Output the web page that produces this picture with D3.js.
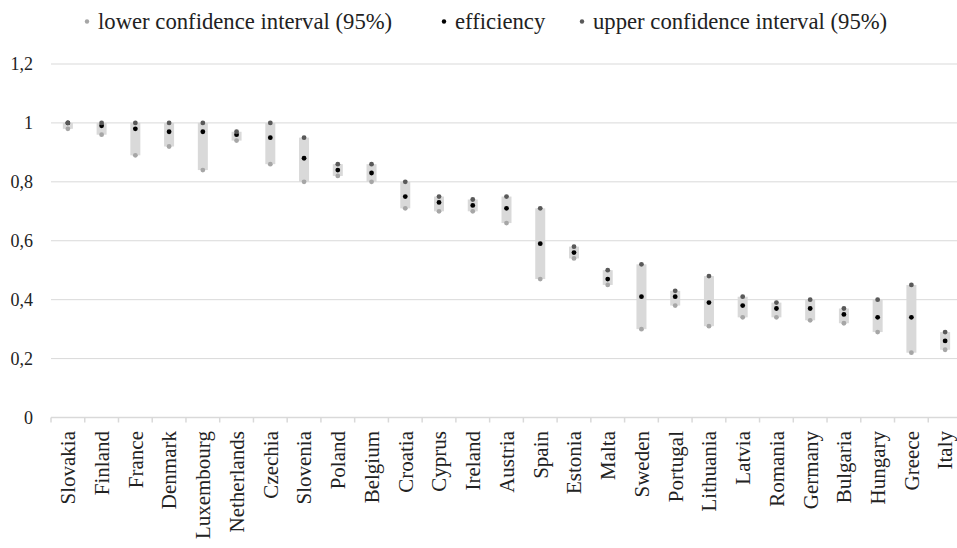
<!DOCTYPE html>
<html><head><meta charset="utf-8">
<script src="https://cdn.jsdelivr.net/npm/d3@7"></script>
<style>html,body{margin:0;padding:0;background:#fff;overflow:hidden;font-family:'Liberation Serif',serif}
#c{font-family:'Liberation Serif',serif}</style>
</head><body>
<svg id="c" width="957" height="548" font-family="Liberation Serif"></svg>
<script>
const countries = ["Slovakia","Finland","France","Denmark","Luxembourg","Netherlands","Czechia","Slovenia","Poland","Belgium","Croatia","Cyprus","Ireland","Austria","Spain","Estonia","Malta","Sweden","Portugal","Lithuania","Latvia","Romania","Germany","Bulgaria","Hungary","Greece","Italy"];
const lowerCI    = [0.98,0.96,0.89,0.92,0.84,0.94,0.86,0.80,0.82,0.80,0.71,0.70,0.70,0.66,0.47,0.54,0.45,0.30,0.38,0.31,0.34,0.34,0.33,0.32,0.29,0.22,0.23];
const efficiency = [1.00,0.99,0.98,0.97,0.97,0.96,0.95,0.88,0.84,0.83,0.75,0.73,0.72,0.71,0.59,0.56,0.47,0.41,0.41,0.39,0.38,0.37,0.37,0.35,0.34,0.34,0.26];
const upperCI    = [1.00,1.00,1.00,1.00,1.00,0.97,1.00,0.95,0.86,0.86,0.80,0.75,0.74,0.75,0.71,0.58,0.50,0.52,0.43,0.48,0.41,0.39,0.40,0.37,0.40,0.45,0.29];
const yTicks = [0,0.2,0.4,0.6,0.8,1,1.2];
const legendLabels = ["lower confidence interval (95%)","efficiency","upper confidence interval (95%)"];

const colLower = "#a6a6a6", colEff = "#000000", colUpper = "#595959", colBar = "#d9d9d9", colGrid = "#d9d9d9";

const svg = d3.select("#c");
const L = 51, R = 962, T = 64, B = 417.5;
const x = d3.scaleBand().domain(countries).range([L, R]);
const y = d3.scaleLinear().domain([0, 1.2]).range([B, T]);

// grid
svg.append("g").selectAll("line").data(yTicks.filter(d => d > 0)).join("line")
  .attr("x1", L).attr("x2", 957).attr("y1", d => y(d)).attr("y2", d => y(d))
  .attr("stroke", colGrid).attr("stroke-width", 1);

// y labels
svg.append("g").selectAll("text").data(yTicks).join("text")
  .attr("x", 33).attr("y", d => y(d)).attr("dy", "0.35em")
  .attr("text-anchor", "end").attr("font-size", 18).attr("fill", "#222")
  .text(d => d3.format("")(d).replace(".", ","));

// x axis
const xAxis = svg.append("g");
xAxis.append("line").attr("x1", L).attr("x2", 957).attr("y1", B).attr("y2", B)
  .attr("stroke", colGrid).attr("stroke-width", 1.5);
xAxis.selectAll("line.tk").data(countries).join("line").attr("class", "tk")
  .attr("x1", d => x(d)).attr("x2", d => x(d)).attr("y1", B).attr("y2", B + 5)
  .attr("stroke", colGrid).attr("stroke-width", 1.5);
xAxis.selectAll("text").data(countries).join("text")
  .attr("transform", d => `translate(${x(d) + x.bandwidth() / 2},431) rotate(-90)`)
  .attr("dy", "0.35em").attr("text-anchor", "end")
  .attr("font-size", 21).attr("fill", "#222")
  .text(d => d);

// range bars
const rows = countries.map((c, i) => ({c, lo: lowerCI[i], ef: efficiency[i], up: upperCI[i]}));
svg.append("g").selectAll("rect").data(rows).join("rect")
  .attr("x", d => x(d.c) + x.bandwidth() / 2 - 5).attr("width", 10)
  .attr("y", d => y(d.up)).attr("height", d => y(d.lo) - y(d.up))
  .attr("fill", colBar);

const cx = d => x(d.c) + x.bandwidth() / 2;
const r = 2.4;
svg.append("g").selectAll("circle").data(rows).join("circle")
  .attr("cx", cx).attr("cy", d => y(d.lo)).attr("r", r).attr("fill", colLower);
svg.append("g").selectAll("circle").data(rows).join("circle")
  .attr("cx", cx).attr("cy", d => y(d.ef)).attr("r", r).attr("fill", colEff);
svg.append("g").selectAll("circle").data(rows).join("circle")
  .attr("cx", cx).attr("cy", d => y(d.up)).attr("r", r).attr("fill", colUpper);

// legend
const legX = [87, 444, 582];
const legCol = [colLower, colEff, colUpper];
const leg = svg.append("g");
legendLabels.forEach((t, i) => {
  leg.append("circle").attr("cx", legX[i]).attr("cy", 21.5).attr("r", 2.2).attr("fill", legCol[i]);
  leg.append("text").attr("x", legX[i] + 11).attr("y", 29)
    .attr("font-size", 22.7).attr("fill", "#222").text(t);
});
</script>
</body></html>
